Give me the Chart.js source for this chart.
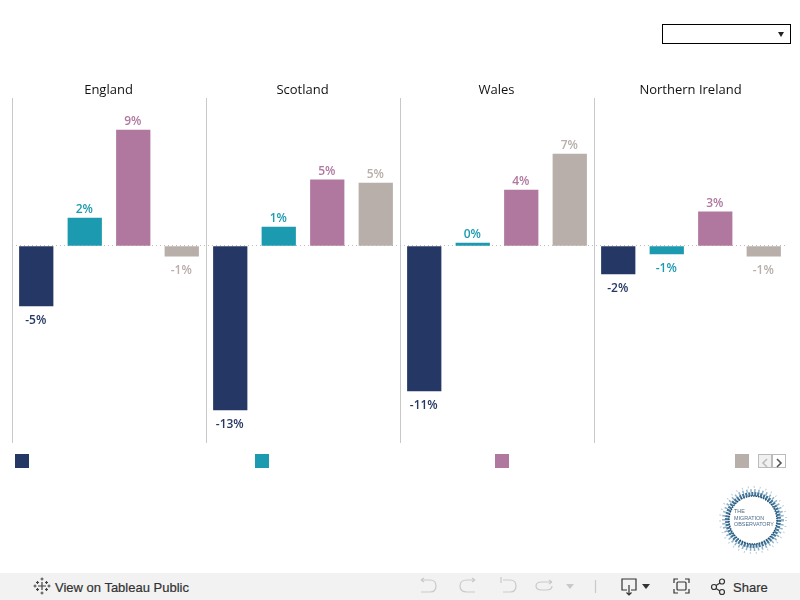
<!doctype html>
<html>

<head>
    <title>Migration Observatory</title>
    <script src="https://cdn.jsdelivr.net/npm/chart.js"></script>
    <style>
        html, body { margin: 0; padding: 0; background: #fff; overflow: hidden; }
        #wrap { position: relative; width: 800px; height: 600px; }
        #grafico { position: absolute; left: 0; top: 0; }
        #filtro { position: absolute; left: 662px; top: 24px; width: 127px; height: 18px; border: 1px solid #000; }
        #filtro:after { content: ""; position: absolute; right: 6px; top: 7px; border-left: 3px solid transparent; border-right: 3px solid transparent; border-top: 5px solid #222; }
        .caixa { position: absolute; top: 454px; width: 14px; height: 14px; }
        .pag { position: absolute; top: 454px; width: 12px; height: 12px; border: 1px solid #bbb; background: #f0f0f0; }
        #barra { position: absolute; left: 0; top: 573px; width: 800px; height: 27px; background: #f2f2f2; font: 13px "Liberation Sans", sans-serif; color: #333; }
        #barra svg { position: absolute; left: 0; top: 0; }
        #barra span { position: absolute; top: 7px; -webkit-text-stroke: 0.2px #333; }
        #logo { position: absolute; left: 715px; top: 482px; }
    </style>
</head>

<body>
    <div id="wrap">
        <canvas id="grafico" width="800" height="600"></canvas>
        <div id="filtro"></div>
        <div id="legenda"></div>
        <div class="pag" style="left: 758px;">
            <svg width="12" height="12"><path d="M8 2 L4 6 L8 10" fill="none" stroke="#bbb" stroke-width="1.6"/></svg>
        </div>
        <div class="pag" style="left: 772px; background: #fff;">
            <svg width="12" height="12"><path d="M4 2 L8 6 L4 10" fill="none" stroke="#555" stroke-width="1.6"/></svg>
        </div>
        <svg id="logo" width="76" height="76">
            <circle cx="38" cy="38" r="33" fill="none" stroke="#b9cfdc" stroke-width="2" stroke-dasharray="1 5"/>
            <circle cx="38" cy="38" r="29.500" fill="none" stroke="#8fb0c5" stroke-width="3" stroke-dasharray="1.500 2.500"/>
            <circle cx="38" cy="38" r="26" fill="none" stroke="#3f7598" stroke-width="4" stroke-dasharray="2 1"/>
            <circle cx="38" cy="38" r="24" fill="none" stroke="#1f4f74" stroke-width="1.500" stroke-dasharray="1.500 1"/>
            <g font-family="Liberation Sans" font-size="5.400" fill="#4a6a88">
                <text x="19" y="31">THE</text>
                <text x="19" y="37.500">MIGRATION</text>
                <text x="19" y="44">OBSERVATORY</text>
            </g>
        </svg>
        <div id="barra">
            <svg width="800" height="27" fill="none" stroke-width="1.2">
                <!-- marca tableau -->
                <g stroke="#444">
                    <path d="M42 9 V17 M38 13 H46"/>
                    <path d="M37.500 8 V11 M36 9.500 H39 M46.500 8 V11 M45 9.500 H48 M37.500 15 V18 M36 16.500 H39 M46.500 15 V18 M45 16.500 H48"/>
                    <path d="M42 4.500 V7.500 M40.500 6 H43.500 M42 18.500 V21.500 M40.500 20 H43.500 M35 11.500 V14.500 M33.500 13 H36.500 M49 11.500 V14.500 M47.500 13 H50.500" stroke-width="1"/>
                </g>
                <!-- desfazer / refazer -->
                <g stroke="#c9c9c9">
                    <path d="M421 7 H430 Q436 7 436 13 Q436 19 430 19 H421 M421 7 l3 -2 M421 7 l3 2"/>
                    <path d="M475 7 H467 Q460 7 460 13 Q460 19 467 19 H475 M475 7 l-3 -2 M475 7 l-3 2"/>
                    <path d="M501 4 V10 M503 7 H510 Q516 7 516 13 Q516 19 510 19 H503"/>
                    <path d="M552 9 H542 Q536 9 536 13 Q536 17 542 17 H546 Q552 17 552 13 M552 9 l-3 -2 M552 9 l-3 2"/>
                    <path d="M595.500 7 V20"/>
                </g>
                <path d="M566 11 H574 L570 16 Z" fill="#c9c9c9"/>
                <!-- download, tela cheia, compartilhar -->
                <g stroke="#333">
                    <path d="M627 17 H622 V6 H636 V17 H631 M629 12 V22 M626.500 19.500 L629 22 L631.500 19.500"/>
                    <path d="M674 10 V6 H678 M685 6 H689 V10 M689 16 V20 H685 M678 20 H674 V16"/>
                    <rect x="677" y="9" width="9" height="8" rx="1"/>
                    <circle cx="714" cy="14" r="2.500"/>
                    <circle cx="722" cy="8.500" r="2.500"/>
                    <circle cx="722" cy="19" r="2.500"/>
                    <path d="M716 12.500 L720 10 M716 15.500 L720 18"/>
                </g>
                <path d="M642 11 H650 L646 16 Z" fill="#333"/>
            </svg>
            <span style="left: 55px;">View on Tableau Public</span>
            <span style="left: 733px;">Share</span>
        </div>
    </div>

    <script>
        var regioes = ['England', 'Scotland', 'Wales', 'Northern Ireland'];
        var cores = ['#253764', '#1c9ab0', '#b0789f', '#b8aeaa'];

        // valores (%), uma lista por regiao
        var england = [-4.65, 2.17, 8.99, -0.78];
        var scotland = [-12.71, 1.47, 5.12, 4.88];
        var wales = [-11.24, 0.23, 4.34, 7.13];
        var northernIreland = [-2.17, -0.62, 2.64, -0.78];

        var valores = england.concat(scotland, wales, northernIreland);
        var nomes = valores.map((v, i) => regioes[Math.floor(i / 4)] + ' ' + (i % 4));

        var caixas = [15, 255, 495, 735];
        cores.forEach((cor, i) => {
            var d = document.createElement('div');
            d.className = 'caixa';
            d.style.left = caixas[i] + 'px';
            d.style.background = cor;
            document.getElementById('legenda').appendChild(d);
        });

        // rotulos das barras e titulos das regioes
        var rotulos = {
            id: 'rotulos',
            afterDatasetsDraw(chart) {
                var ctx = chart.ctx;
                var area = chart.chartArea;
                var meta = chart.getDatasetMeta(0);
                ctx.save();
                ctx.textAlign = 'center';
                ctx.textBaseline = 'middle';
                ctx.font = '600 12px "Open Sans"';
                meta.data.forEach((bar, i) => {
                    var v = valores[i];
                    ctx.fillStyle = cores[i % 4];
                    ctx.fillText(Math.round(v) + '%', bar.x - 0.5, v < 0 ? bar.y + 15 : bar.y - 8);
                });
                ctx.font = '13px "Open Sans"';
                ctx.fillStyle = '#111';
                var largura = (area.right - area.left) / 4;
                regioes.forEach((r, i) => {
                    ctx.fillText(r, area.left + largura * (i + 0.5) - 0.5, 90);
                });
                ctx.restore();
            }
        };

        new Chart(document.getElementById('grafico').getContext('2d'), {
            type: 'bar',
            data: {
                labels: nomes,
                datasets: [{
                    data: valores,
                    backgroundColor: valores.map((v, i) => cores[i % 4]),
                    barThickness: 33.6
                }]
            },
            options: {
                responsive: false,
                animation: false,
                layout: { padding: { left: 12, right: 12, top: 98, bottom: 157 } },
                plugins: { legend: { display: false }, tooltip: { enabled: false } },
                scales: {
                    x: {
                        ticks: { display: false },
                        border: { display: false },
                        grid: {
                            offset: true,
                            drawTicks: false,
                            lineWidth: 1,
                            color: (c) => c.index % 4 == 0 ? '#c8c8c8' : 'rgba(0,0,0,0)'
                        }
                    },
                    y: {
                        min: -15.27,
                        max: 11.47,
                        ticks: { display: false, stepSize: 5 },
                        border: { display: false, dash: [1, 3] },
                        grid: {
                            drawTicks: false,
                            color: (c) => c.tick && c.tick.value == 0 ? '#bdbdbd' : 'rgba(0,0,0,0)'
                        }
                    }
                }
            },
            plugins: [rotulos]
        });
    </script>
</body>

</html>
